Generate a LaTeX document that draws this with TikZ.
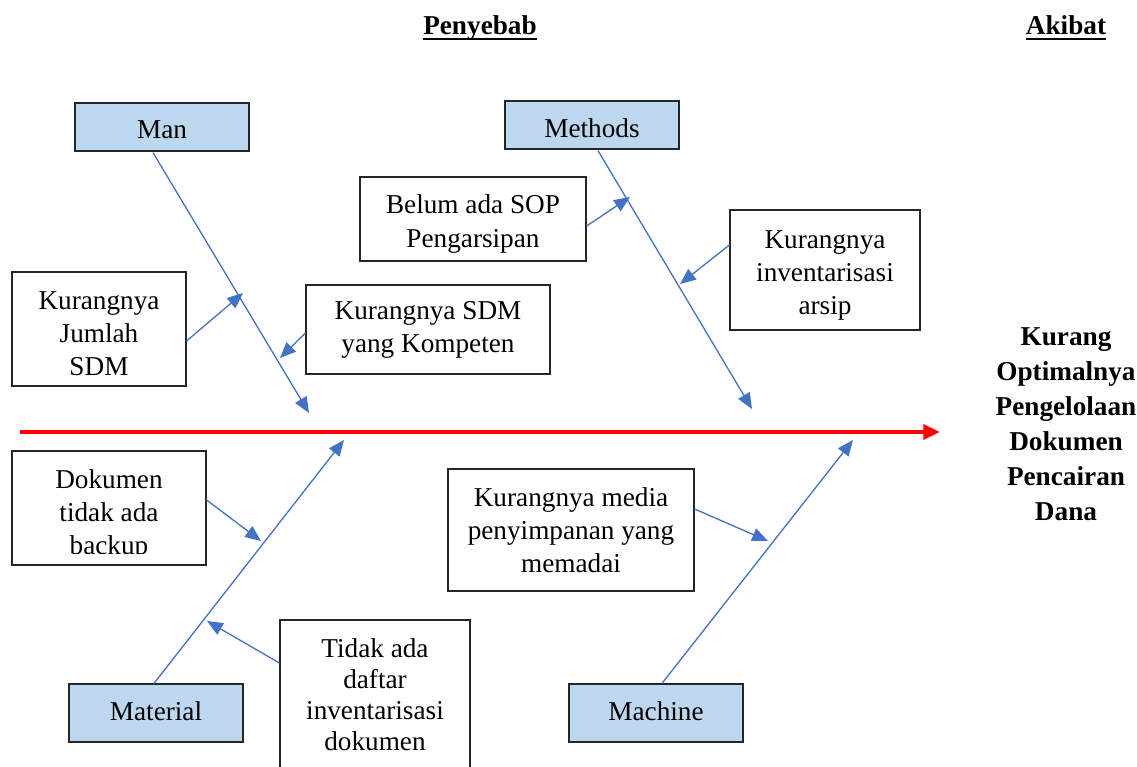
\documentclass[tikz,border=0pt]{standalone}
\usepackage{fontspec}
\setmainfont{Liberation Serif}
\usetikzlibrary{arrows.meta,calc}
\definecolor{bonefill}{HTML}{BDD7EE}
\definecolor{boneblue}{HTML}{4472C4}
\definecolor{spinered}{HTML}{FF0000}
\newcommand{\thickul}[1]{\setbox0\hbox{#1}\rlap{\rule[-3.1pt]{\wd0}{1.2pt}}\box0}
\begin{document}
\begin{tikzpicture}[x=0.02cm,y=-0.02cm,
  txt/.style={font=\fontsize{15.5}{18.8}\selectfont, align=center, inner sep=0pt},
  boxline/.style={draw=black!85, line width=0.7pt},
  catbox/.style={boxline, fill=bonefill, minimum width=3.48cm, inner sep=0pt},
  causebox/.style={boxline, fill=white, inner sep=0pt},
  bone/.style={draw=boneblue, line width=0.75pt, -{Triangle[length=9pt,width=7.5pt]}},
  spine/.style={draw=spinered, line width=2pt, -{Triangle[length=9.5pt,width=8.5pt]}},
  title/.style={font=\fontsize{15.5}{18}\selectfont\bfseries, anchor=base}]
\useasboundingbox (0,0) rectangle (1137,767);

% titles
\node[title] (penyebab) at (480,35) {\thickul{Penyebab}};
\node[title] (akibat) at (1066,35) {\thickul{Akibat}};

% effect
\node[font=\fontsize{15.5}{19.9}\selectfont\bfseries, align=center] (effect) at (1066,424)
  {Kurang\\Optimalnya\\Pengelolaan\\Dokumen\\Pencairan\\Dana};

% category boxes
\node[catbox, minimum height=0.96cm] (man) at (162,127) {};
\node[txt] (man-t) at (162,130) {Man};
\node[catbox, minimum height=0.96cm] (methods) at (592,125) {};
\node[txt] (methods-t) at (592,128) {Methods};
\node[catbox, minimum height=1.16cm] (material) at (156,713) {};
\node[txt] (material-t) at (156,711) {Material};
\node[catbox, minimum height=1.16cm] (machine) at (656,713) {};
\node[txt] (machine-t) at (656,711) {Machine};

% cause boxes
\node[causebox, minimum width=3.48cm, minimum height=2.28cm] (jumlah) at (99,329) {};
\node[txt] (jumlah-t) at (99,334) {Kurangnya\\Jumlah\\SDM};
\node[causebox, minimum width=4.88cm, minimum height=1.78cm] (kompeten) at (428,329.5) {};
\node[txt] (kompeten-t) at (428,330) {Kurangnya SDM\\yang Kompeten};
\node[causebox, minimum width=4.52cm, minimum height=1.68cm] (sop) at (473,219) {};
\node[txt] (sop-t) at (473,224) {Belum ada SOP\\Pengarsipan};
\node[causebox, minimum width=3.8cm, minimum height=2.4cm] (arsip) at (825,270) {};
\node[txt] (arsip-t) at (825,275.5) {Kurangnya\\inventarisasi\\arsip};
\node[causebox, minimum width=3.88cm, minimum height=2.28cm] (backup) at (109,508) {};
\begin{scope}
  \clip (0,440) rectangle (300,553);
  \node[txt] (backup-t) at (109,514.5) {Dokumen\\tidak ada\\backup};
\end{scope}
\node[causebox, minimum width=4.92cm, minimum height=2.44cm] (media) at (571,530) {};
\node[txt] (media-t) at (571,530) {Kurangnya media\\penyimpanan yang\\memadai};
\node[causebox, minimum width=3.8cm, minimum height=3.4cm] (daftar) at (375,705) {};
\node[txt, font=\fontsize{15.5}{17.7}\selectfont] (daftar-t) at (375,695) {Tidak ada\\daftar\\inventarisasi\\dokumen};

% spine
\coordinate (spineS) at (20,432);
\coordinate (spineE) at (940,432);
\draw[spine] (spineS) -- (spineE);

% bones
\coordinate (tipMan) at (309,413);
\coordinate (tipMethods) at (752,409);
\coordinate (tipMaterial) at (344,440);
\coordinate (tipMachine) at (853,440);
\draw[bone] ($(man.south)+(-9,1)$) -- (tipMan);
\draw[bone] ($(methods.south)+(6,1)$) -- (tipMethods);
\draw[bone] ($(material.north)+(-2,0)$) -- (tipMaterial);
\draw[bone] ($(machine.north)+(6,0)$) -- (tipMachine);

% sub-cause arrows
\coordinate (tJumlah) at (243,293);
\coordinate (tKompeten) at (280,358);
\coordinate (tSop) at (630,197);
\coordinate (tArsip) at (680,284);
\coordinate (tBackup) at (261,541);
\coordinate (tDaftar) at (207,621);
\coordinate (tMedia) at (768,541);
\draw[bone] ($(jumlah.east)+(0,12)$) -- (tJumlah);
\draw[bone] ($(kompeten.west)+(0,3.5)$) -- (tKompeten);
\draw[bone] ($(sop.east)+(0,7)$) -- (tSop);
\draw[bone] ($(arsip.west)+(0,-25)$) -- (tArsip);
\draw[bone] ($(backup.east)+(0,-8)$) -- (tBackup);
\draw[bone] ($(daftar.west)+(0,-42)$) -- (tDaftar);
\draw[bone] ($(media.east)+(0,-21)$) -- (tMedia);
\end{tikzpicture}
\end{document}
